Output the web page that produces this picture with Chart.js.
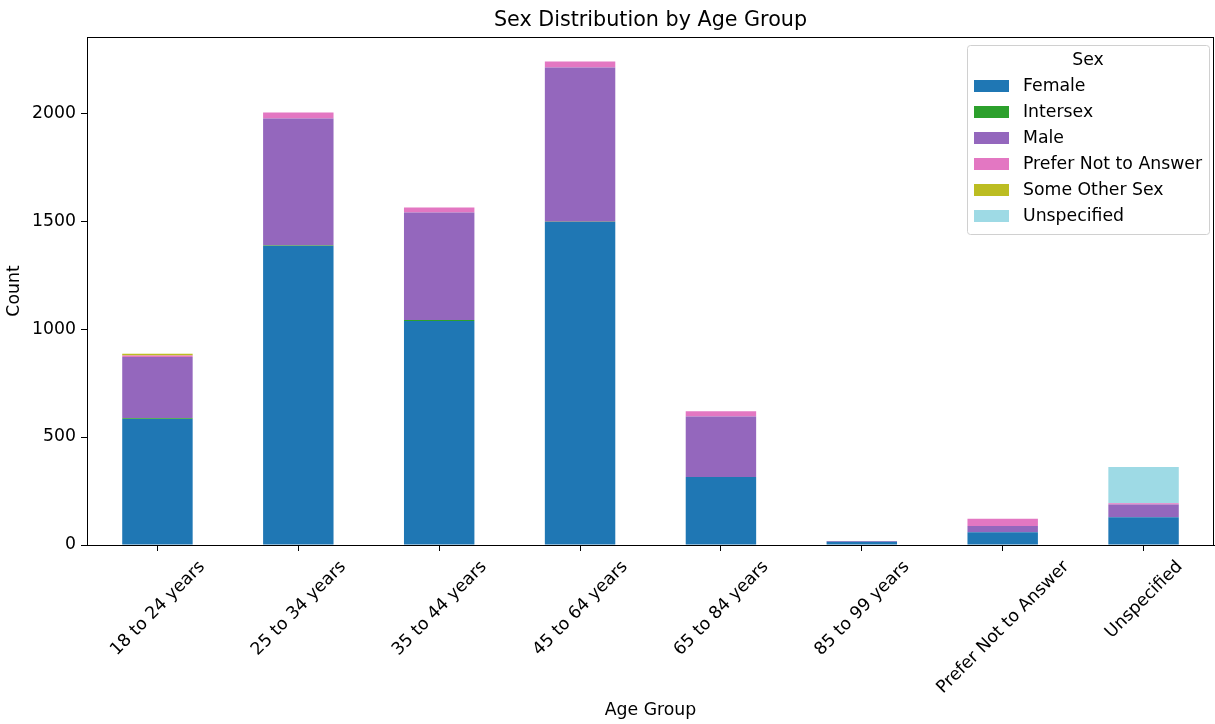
<!DOCTYPE html>
<html>
<head>
<meta charset="utf-8">
<script src="https://cdn.jsdelivr.net/npm/chart.js@4"></script>
<style>
  html, body { margin: 0; padding: 0; background: #fff; }
  #wrap { width: 1215px; height: 724px; }
</style>
</head>
<body>
<div id="wrap"><canvas id="myChart" width="1215" height="724"></canvas></div>
<script>
const ageGroups = ['18 to 24 years', '25 to 34 years', '35 to 44 years', '45 to 64 years',
  '65 to 84 years', '85 to 99 years', 'Prefer Not to Answer', 'Unspecified'];
const female      = [583, 1384, 1037, 1495, 315, 15, 59, 128];
const intersex    = [4, 3, 5, 2, 0, 0, 0, 0];
const male        = [284, 588, 498, 714, 280, 3, 29, 60];
const preferNot   = [6, 28, 23, 28, 24, 0, 34, 5];
const someOther   = [8, 0, 0, 0, 0, 0, 0, 0];
const unspecified = [0, 0, 0, 0, 0, 0, 0, 168];
const yTicks = [0, 500, 1000, 1500, 2000];

const FONT = "'DejaVu Sans', sans-serif";
const FS = 17.3; // taille des textes d'axes / légende
const FS_TITLE = 20.7;

// cadre + titre + étiquettes x + légende, dessinés à la main façon matplotlib
const mplLook = {
  id: 'mplLook',
  afterDraw(chart) {
    const { ctx, chartArea: a } = chart;
    ctx.save();
    ctx.strokeStyle = '#000';
    ctx.lineWidth = 1;
    ctx.strokeRect(a.left + 0.5, a.top + 0.5, a.right - a.left - 1, a.bottom - a.top);

    ctx.fillStyle = '#000';
    ctx.font = `${FS_TITLE}px ${FONT}`;
    ctx.textAlign = 'center';
    ctx.textBaseline = 'bottom';
    ctx.fillText('Sex Distribution by Age Group', (a.left + a.right) / 2, a.top - 6);

    // étiquettes x tournées de 45°, centrées sur le tick
    const xs = chart.scales.x;
    ctx.font = `${FS}px ${FONT}`;
    const c = Math.SQRT1_2, h = 16;
    ageGroups.forEach((lab, i) => {
      const w = ctx.measureText(lab).width;
      const tx = xs.getPixelForValue(i) + (w * c - h * c) / 2;
      const ty = a.bottom + 13;
      ctx.save();
      ctx.translate(tx, ty);
      ctx.rotate(-Math.PI / 4);
      ctx.textAlign = 'right';
      ctx.textBaseline = 'top';
      ctx.fillText(lab, 0, 0);
      ctx.restore();
    });

    // légende dans le coin haut droit
    const ds = chart.data.datasets;
    const bx = 967, by = 45, bw = 242, bh = 189;
    ctx.fillStyle = 'rgba(255,255,255,0.8)';
    ctx.strokeStyle = '#d0d0d0';
    ctx.beginPath();
    ctx.roundRect(bx + 0.5, by + 0.5, bw, bh, 3);
    ctx.fill();
    ctx.stroke();
    ctx.fillStyle = '#000';
    ctx.font = `${FS}px ${FONT}`;
    ctx.textAlign = 'center';
    ctx.textBaseline = 'middle';
    ctx.fillText('Sex', bx + bw / 2, 61);
    ctx.textAlign = 'left';
    ds.forEach((d, i) => {
      const y = 86 + i * 26;
      ctx.fillStyle = d.backgroundColor;
      ctx.fillRect(974, y - 6, 35, 12);
      ctx.fillStyle = '#000';
      ctx.fillText(d.label, 1023, y + 1);
    });
    ctx.restore();
  }
};

const ctx = document.getElementById('myChart');
const myChart = new Chart(ctx, {
  type: 'bar',
  data: {
    labels: ageGroups,
    datasets: [
      { label: 'Female', data: female, backgroundColor: '#1f77b4' },
      { label: 'Intersex', data: intersex, backgroundColor: '#2ca02c' },
      { label: 'Male', data: male, backgroundColor: '#9467bd' },
      { label: 'Prefer Not to Answer', data: preferNot, backgroundColor: '#e377c2' },
      { label: 'Some Other Sex', data: someOther, backgroundColor: '#bcbd22' },
      { label: 'Unspecified', data: unspecified, backgroundColor: '#9edae5' }
    ]
  },
  options: {
    responsive: false,
    animation: false,
    layout: { padding: { top: 37, right: 1, left: 0, bottom: 0 } },
    datasets: { bar: { barPercentage: 0.5, categoryPercentage: 1, borderWidth: 0 } },
    plugins: { legend: { display: false }, title: { display: false }, tooltip: { enabled: false } },
    scales: {
      x: {
        stacked: true,
        grid: { offset: false, drawOnChartArea: false, tickLength: 6, color: '#000' },
        border: { color: '#000' },
        ticks: { display: false },
        title: { display: true, text: 'Age Group', color: '#000', font: { family: FONT, size: FS }, padding: { top: 0, bottom: 3 } },
        afterFit(s) { s.height = 179; }
      },
      y: {
        stacked: true,
        min: 0,
        max: 2352,
        afterBuildTicks(s) { s.ticks = yTicks.map(v => ({ value: v })); },
        grid: { drawOnChartArea: false, tickLength: 6, color: '#000' },
        border: { color: '#000' },
        ticks: { color: '#000', font: { family: FONT, size: FS }, padding: 5, callback: v => String(v) },
        title: { display: true, text: 'Count', color: '#000', font: { family: FONT, size: FS }, padding: { top: 4, bottom: 0 } },
        afterFit(s) { s.width = 87; }
      }
    }
  },
  plugins: [mplLook]
});
</script>
</body>
</html>
